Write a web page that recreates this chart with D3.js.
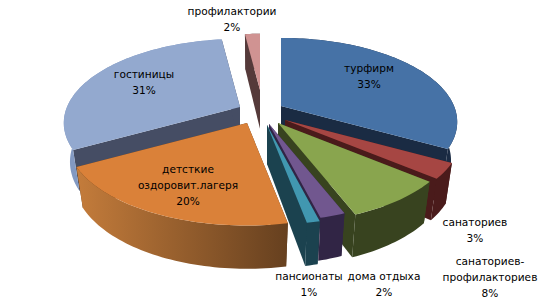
<!DOCTYPE html>
<html><head><meta charset="utf-8">
<script src="https://cdn.jsdelivr.net/npm/d3@7"></script>
<style>html,body{margin:0;padding:0;background:#fff}svg{display:block}text{font-family:"DejaVu Sans",sans-serif;font-size:10.6px;fill:#000}</style>
</head><body><svg id="c" width="557" height="308"></svg>
<script>
const categories = ["турфирм","санаториев","санаториев-профилакториев","дома отдыха","пансионаты","детсткие оздоровит.лагеря","гостиницы","профилактории"];
const values = [33,3,8,2,1,20,31,2];
const labelLines = [["турфирм"],["санаториев"],["санаториев-","профилакториев"],["дома отдыха"],["пансионаты"],["детсткие","оздоровит.лагеря"],["гостиницы"],["профилактории"]];

// styling and layout, kept apart from the data
const topColors  = ["#4672a6","#a64643","#89a54e","#71578f","#4197b0","#da8139","#93a9cf","#d09392"];
const wallColors = ["#1a2b43","#4a1b1b","#38431f","#312545","#1b424f","#5d3a1c","#454d64","#553a3a"];
const rimFrom    = ["#1f3350","#4a1b1b","#38431f","#312545","#1b424f","#c47c3b","#8299c2","#553a3a"];
const rimTo      = ["#1a2b43","#4a1b1b","#38431f","#312545","#1b424f","#66401f","#8299c2","#553a3a"];
const apexes = [[281,106],[285,120],[278,123],[269,124],[267,125],[247,123],[240,107],[260,90]];
const radii  = [1,1,1,0.98,1,1.02,1,0.8];
const labelPos = [[369,68],[475,222],[490,261],[384,276],[309,276],[188,169],[144,74],[232,11]];
const drawOrder = [7,6,0,1,2,3,4,5];
const A=173,B=81,K=0.19,H=40,DW=0.035,LINE=16;

const svg = d3.select("#c");
const defs = svg.append("defs");
const arcs = d3.pie().sort(null).startAngle(0).endAngle(2*Math.PI)(values);
const line = d3.line();

function proj(i,theta,r,lower){
  const a=apexes[i], X=r*Math.sin(theta), Y=r*Math.cos(theta), w=1+K*Y+(lower?DW:0);
  return [a[0]+A*X/w, a[1]+(-B*Y+(lower?H:0))/w];
}
function arcPts(i,t0,t1,lower){
  const n=Math.max(2,Math.ceil((t1-t0)*40));
  return d3.range(n+1).map(k=>proj(i,t0+(t1-t0)*k/n,radii[i],lower));
}
drawOrder.forEach(i=>{
  const s=arcs[i], g=svg.append("g");
  const apexT=proj(i,0,0,false), apexB=proj(i,0,0,true);
  const topArc=arcPts(i,s.startAngle,s.endAngle,false), botArc=arcPts(i,s.startAngle,s.endAngle,true);
  [[topArc[0],botArc[0]],[topArc[topArc.length-1],botArc[botArc.length-1]]].forEach(e=>{
    g.append("path").attr("d",line([apexT,e[0],e[1],apexB])+"Z").attr("fill",wallColors[i]);
  });
  const xs=topArc.concat(botArc).map(p=>p[0]);
  const gr=defs.append("linearGradient").attr("id","rim"+i).attr("gradientUnits","userSpaceOnUse")
    .attr("x1",d3.min(xs)).attr("x2",d3.max(xs)).attr("y1",0).attr("y2",0);
  gr.append("stop").attr("offset",0).attr("stop-color",rimFrom[i]);
  gr.append("stop").attr("offset",1).attr("stop-color",rimTo[i]);
  g.append("path").attr("d",line(topArc.concat(botArc.slice().reverse()))+"Z").attr("fill","url(#rim"+i+")");
  g.append("path").attr("d",line([apexT].concat(topArc))+"Z").attr("fill",topColors[i]);
});
categories.forEach((c,i)=>{
  const lines=labelLines[i].concat([values[i]+"%"]);
  lines.forEach((t,j)=>{
    svg.append("text").attr("x",labelPos[i][0]).attr("y",labelPos[i][1]+j*LINE)
      .attr("text-anchor","middle").attr("dominant-baseline","central").text(t);
  });
});
</script></body></html>
